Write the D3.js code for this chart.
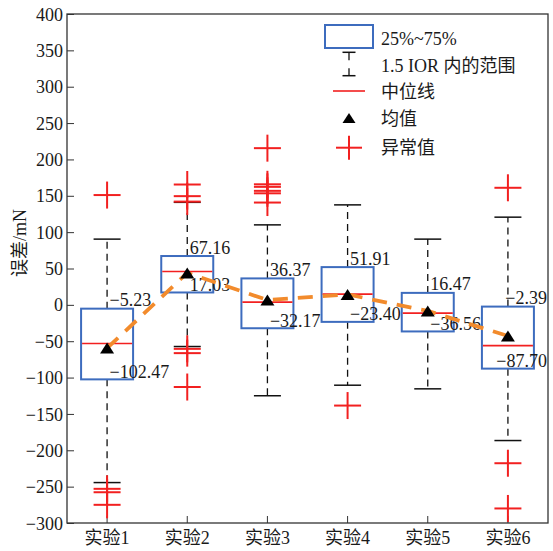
<!DOCTYPE html>
<html>
<head>
<meta charset="utf-8">
<script src="https://cdn.jsdelivr.net/npm/d3@7"></script>
<style>
  html, body { margin: 0; padding: 0; background: #fff; }
  svg { display: block; }
  text { font-family: "Liberation Serif", "Times New Roman", "Noto Sans CJK SC", serif; fill: #1a1a1a; }
</style>
</head>
<body>
<svg id="chart" width="553" height="551"></svg>
<script>
// Error statistics per experiment (mN)
const categories = ["实验1", "实验2", "实验3", "实验4", "实验5", "实验6"];
const q1Values = [-102.47, 17.03, -32.17, -23.40, -36.56, -87.70];
const q3Values = [-5.23, 67.16, 36.37, 51.91, 16.47, -2.39];
const medianValues = [-53.2, 45.8, 3.7, 14.7, -11.4, -56.0];
const meanValues = [-59.5, 43.9, 6.7, 14.3, -8.4, -42.8];
const whiskerHigh = [90.4, 141.0, 110.0, 137.5, 90.4, 120.6];
const whiskerLow = [-244.4, -57.3, -125.0, -110.5, -115.5, -186.6];
const outlierValues = [
  [151, -253, -257.7, -275],
  [165.5, 149.5, 142, -60.5, -66.4, -113],
  [215.5, 165.8, 162.3, 156.8, 153.4, 140.7],
  [-138.5],
  [],
  [161, -217.8, -280]
];
const yTicks = [400, 350, 300, 250, 200, 150, 100, 50, 0, -50, -100, -150, -200, -250, -300];
const yLabel = "误差/mN";
const legendLabels = ["25%~75%", "1.5 IOR 内的范围", "中位线", "均值", "异常值"];

const boxColor = "#3d6cbe";
const red = "#f22020";
const orange = "#f28b2c";

const svg = d3.select("#chart");
const plot = { left: 67, right: 548, top: 14, bottom: 523 };

const x = d3.scaleBand().domain(categories).range([plot.left, plot.right]).padding(0);
const y = d3.scaleLinear().domain([-300, 400]).range([plot.bottom, plot.top]);
const cx = c => x(c) + x.bandwidth() / 2;
const boxW = 52, capW = 27, crossW = 27;
const fmt = v => (v < 0 ? "\u2212" : "") + Math.abs(v).toFixed(2);

const rows = categories.map((c, i) => ({
  c, q1: q1Values[i], q3: q3Values[i], med: medianValues[i], mean: meanValues[i],
  hi: whiskerHigh[i], lo: whiskerLow[i], out: outlierValues[i]
}));

// Axes with inward ticks
const yAxis = d3.axisLeft(y).tickValues(yTicks).tickSizeInner(-7).tickSizeOuter(0).tickPadding(4)
  .tickFormat(d => (d < 0 ? "\u2212" : "") + Math.abs(d));
const gy = svg.append("g").attr("transform", `translate(${plot.left},0)`).call(yAxis);
gy.select(".domain").remove();
gy.selectAll("line").attr("stroke", "#333").attr("stroke-width", 1);
gy.selectAll("text").attr("font-size", 18).attr("fill", "#1a1a1a").attr("dy", "0.34em");

const xAxis = d3.axisBottom(x).tickSizeInner(-7).tickSizeOuter(0).tickPadding(0);
const gx = svg.append("g").attr("transform", `translate(0,${plot.bottom})`).call(xAxis);
gx.select(".domain").remove();
gx.selectAll("line").attr("stroke", "#333").attr("stroke-width", 1);
gx.selectAll("text").attr("font-size", 18).attr("fill", "#1a1a1a").attr("y", 21).attr("dy", 0);

// Plot frame
svg.append("rect")
  .attr("x", plot.left).attr("y", plot.top)
  .attr("width", plot.right - plot.left).attr("height", plot.bottom - plot.top)
  .attr("fill", "none").attr("stroke", "#333").attr("stroke-width", 1.3);

// Y axis title
svg.append("text")
  .attr("transform", `translate(20,243) rotate(-90)`)
  .attr("text-anchor", "middle").attr("dominant-baseline", "central")
  .attr("font-size", 18).text(yLabel);

const g = svg.append("g");

// Whiskers (dashed) and caps
rows.forEach(r => {
  g.append("line").attr("x1", cx(r.c)).attr("x2", cx(r.c))
    .attr("y1", y(r.q3)).attr("y2", y(r.hi))
    .attr("stroke", "#111").attr("stroke-width", 1.3).attr("stroke-dasharray", "7,5");
  g.append("line").attr("x1", cx(r.c)).attr("x2", cx(r.c))
    .attr("y1", y(r.q1)).attr("y2", y(r.lo))
    .attr("stroke", "#111").attr("stroke-width", 1.3).attr("stroke-dasharray", "7,5");
  [r.hi, r.lo].forEach(v => {
    g.append("line").attr("x1", cx(r.c) - capW / 2).attr("x2", cx(r.c) + capW / 2)
      .attr("y1", y(v)).attr("y2", y(v)).attr("stroke", "#111").attr("stroke-width", 1.5);
  });
});

// Boxes (interquartile range)
g.selectAll("rect.box").data(rows).join("rect").attr("class", "box")
  .attr("x", d => cx(d.c) - boxW / 2).attr("width", boxW)
  .attr("y", d => y(d.q3)).attr("height", d => y(d.q1) - y(d.q3))
  .attr("fill", "none").attr("stroke", boxColor).attr("stroke-width", 2);

// Medians
g.selectAll("line.med").data(rows).join("line").attr("class", "med")
  .attr("x1", d => cx(d.c) - boxW / 2 + 1).attr("x2", d => cx(d.c) + boxW / 2 - 1)
  .attr("y1", d => y(d.med)).attr("y2", d => y(d.med))
  .attr("stroke", red).attr("stroke-width", 1.6);

// Outliers as crosses
function cross(sel, px, py, w, h) {
  sel.append("line").attr("x1", px - w / 2).attr("x2", px + w / 2).attr("y1", py).attr("y2", py)
    .attr("stroke", red).attr("stroke-width", 2);
  sel.append("line").attr("x1", px).attr("x2", px).attr("y1", py - h / 2).attr("y2", py + h / 2)
    .attr("stroke", red).attr("stroke-width", 2);
}
rows.forEach(r => r.out.forEach(v => cross(g, cx(r.c), y(v), crossW, crossW)));

// Quartile value labels, kept inside the plot frame
function quartileLabel(r, v, dy) {
  const t = g.append("text").attr("y", y(v) - dy).attr("font-size", 18).text(fmt(v));
  const w = t.node().getComputedTextLength();
  t.attr("x", Math.min(cx(r.c) + 2.5, plot.right - 1 - w));
}
rows.forEach(r => {
  quartileLabel(r, r.q3, 2.5);
  quartileLabel(r, r.q1, 1.5);
});

// Mean trend line
const line = d3.line().x(d => cx(d.c)).y(d => y(d.mean));
g.append("path").datum(rows).attr("d", line)
  .attr("fill", "none").attr("stroke", orange).attr("stroke-width", 3.8)
  .attr("stroke-dasharray", "15,10");

// Mean markers
const tri = (px, py, w, h) => `M${px},${py - h / 2}L${px + w / 2},${py + h / 2}L${px - w / 2},${py + h / 2}Z`;
g.selectAll("path.mean").data(rows).join("path").attr("class", "mean")
  .attr("d", d => tri(cx(d.c), y(d.mean), 14, 11)).attr("fill", "#000");

// Legend
const lg = svg.append("g");
const lx = 381, mid = 349;
lg.append("rect").attr("x", 325).attr("y", 25).attr("width", 48).attr("height", 23)
  .attr("fill", "none").attr("stroke", boxColor).attr("stroke-width", 2);
lg.append("line").attr("x1", mid - 6.5).attr("x2", mid + 6.5).attr("y1", 52.3).attr("y2", 52.3)
  .attr("stroke", "#111").attr("stroke-width", 1.5);
lg.append("line").attr("x1", mid - 6.5).attr("x2", mid + 6.5).attr("y1", 75.7).attr("y2", 75.7)
  .attr("stroke", "#111").attr("stroke-width", 1.5);
lg.append("line").attr("x1", mid).attr("x2", mid).attr("y1", 52.3).attr("y2", 75.7)
  .attr("stroke", "#111").attr("stroke-width", 1.3).attr("stroke-dasharray", "8,8");
lg.append("line").attr("x1", 333).attr("x2", 365).attr("y1", 91).attr("y2", 91)
  .attr("stroke", red).attr("stroke-width", 1.6);
lg.append("path").attr("d", tri(mid, 118, 13, 10)).attr("fill", "#000");
cross(lg, mid, 147.7, 26, 24);
const ly = [38.5, 66, 92, 119, 148];
legendLabels.forEach((t, i) => {
  lg.append("text").attr("x", lx).attr("y", ly[i]).attr("dominant-baseline", "central")
    .attr("font-size", 18).text(t);
});
</script>
</body>
</html>
